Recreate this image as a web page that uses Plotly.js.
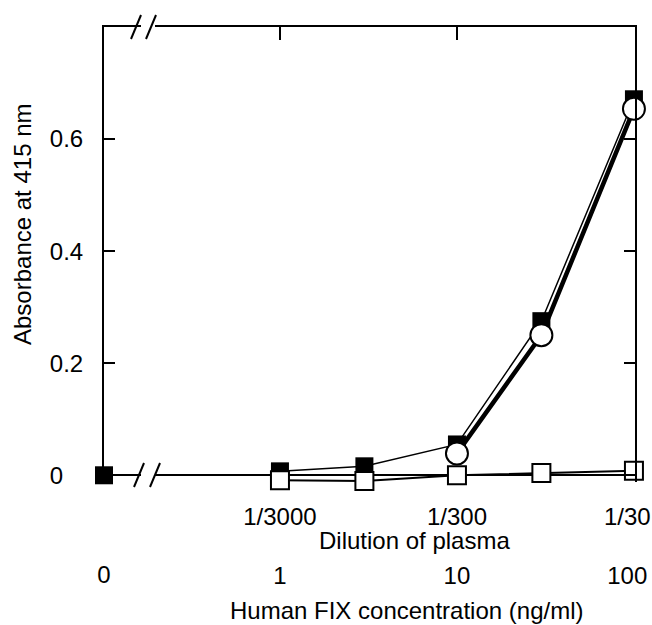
<!DOCTYPE html>
<html>
<head>
<meta charset="utf-8">
<script src="https://cdn.plot.ly/plotly-3.0.1.min.js"></script>
<style>html,body{margin:0;padding:0;background:#fff;}#chart{width:652px;height:625px;}</style>
</head>
<body>
<div id="chart"></div>
<script>
// ---- data ----
const filledConc = [0, 1, 3, 10, 30, 100];
const filledAbs = [0, 0.007, 0.016, 0.055, 0.275, 0.671];
const circleConc = [10, 30, 100];
const circleAbs = [0.039, 0.25, 0.654];
const openConc = [1, 3, 10, 30, 100];
const openAbs = [-0.009, -0.010, 0.0, 0.004, 0.008];
const yTickVals = [0, 0.2, 0.4, 0.6];
const yTickText = ['0\u2008\u2007', '0.2', '0.4', '0.6'];
const dilutionVals = [1, 10, 100];
const dilutionText = ['1/3000', '1/300', '1/30\u2007'];
const concVals = [1, 10, 100];
const concText = ['1', '10', '100\u2007'];
const zeroVals = [0];
const zeroText = ['0'];
const topTickVals = [1, 10];

const F = 'Liberation Sans, Arial, sans-serif';
const fs = 24;

const zeroIdx = filledConc.map((c, i) => c === 0 ? i : -1).filter(i => i >= 0);
const posIdx = filledConc.map((c, i) => c > 0 ? i : -1).filter(i => i >= 0);

const traces = [
  { // filled square at zero concentration (left panel)
    x: zeroIdx.map(i => filledConc[i]), y: zeroIdx.map(i => filledAbs[i]),
    xaxis: 'x', yaxis: 'y', mode: 'markers', cliponaxis: false,
    marker: {symbol: 'square', size: 18, color: '#000'}, showlegend: false, hoverinfo: 'skip'
  },
  { // filled squares
    x: posIdx.map(i => filledConc[i]), y: posIdx.map(i => filledAbs[i]),
    xaxis: 'x2', yaxis: 'y2', mode: 'lines+markers', cliponaxis: false,
    line: {color: '#000', width: 1.5},
    marker: {symbol: 'square', size: 18, color: '#000'}, showlegend: false
  },
  { // open circles
    x: circleConc, y: circleAbs, xaxis: 'x2', yaxis: 'y2', mode: 'lines+markers', cliponaxis: false,
    line: {color: '#000', width: 4.5},
    marker: {symbol: 'circle', size: 22, color: '#fff', line: {color: '#000', width: 2}}, showlegend: false
  },
  { // open squares
    x: openConc, y: openAbs, xaxis: 'x2', yaxis: 'y2', mode: 'lines+markers', cliponaxis: false,
    line: {color: '#000', width: 2},
    marker: {symbol: 'square', size: 18, color: '#fff', line: {color: '#000', width: 2}}, showlegend: false
  },
  {x: [], y: [], xaxis: 'x3', yaxis: 'y2', showlegend: false},
  {x: [], y: [], xaxis: 'x4', yaxis: 'y2', showlegend: false},
  {x: [], y: [], xaxis: 'x5', yaxis: 'y', showlegend: false}
];

const pl = 104, pr = 635, pt = 27, pb = 482;
const W = pr - pl, H = pb - pt;
const px = v => (v - pl) / W;
const py = v => (pb - v) / H;

const yRange = [-0.012, 0.8];
const logRange = [-0.706, 2.006];
const common = {showgrid: false, zeroline: false, fixedrange: true};
const axLine = {showline: true, linecolor: '#000', linewidth: 2};

const slash = (xc, yc) => ({type: 'line', xref: 'paper', yref: 'paper',
  x0: px(xc - 5), y0: py(yc + 12), x1: px(xc + 5), y1: py(yc - 12),
  line: {color: '#000', width: 2}, layer: 'above'});

const yCommon = Object.assign({}, common, axLine, {
  domain: [0, 1], range: yRange,
  zeroline: true, zerolinecolor: '#000', zerolinewidth: 2,
  ticks: 'inside', ticklen: 11, tickwidth: 2, tickcolor: '#000',
  tickmode: 'array', tickvals: yTickVals, mirror: false
});

const layout = {
  width: 652, height: 625,
  margin: {l: pl, r: 652 - pr, t: pt, b: 625 - pb},
  paper_bgcolor: '#fff', plot_bgcolor: '#fff',
  font: {family: F, size: fs, color: '#000'},
  showlegend: false,
  xaxis: Object.assign({}, common, {
    domain: [0, px(141)], range: [0, 1], type: 'linear', anchor: 'y',
    showline: false, ticks: '', tickmode: 'array', tickvals: zeroVals, ticktext: zeroText,
    ticklabelstandoff: 76, ticklabeloverflow: 'allow', tickfont: {family: F, size: fs}
  }),
  xaxis5: Object.assign({}, common, axLine, {
    overlaying: 'x', range: [0, 1], type: 'linear', anchor: 'y', side: 'top',
    ticks: '', showticklabels: false
  }),
  xaxis2: Object.assign({}, common, {
    domain: [px(155), 1], range: logRange, type: 'log', anchor: 'y2',
    showline: false, ticks: '', tickmode: 'array', tickvals: dilutionVals, ticktext: dilutionText,
    ticklabelstandoff: 18, ticklabeloverflow: 'allow', tickfont: {family: F, size: fs}
  }),
  xaxis3: Object.assign({}, common, {
    overlaying: 'x2', range: logRange, type: 'log', anchor: 'y2', side: 'bottom',
    showline: false, ticks: '', tickmode: 'array', tickvals: concVals, ticktext: concText,
    ticklabelstandoff: 77, ticklabeloverflow: 'allow', tickfont: {family: F, size: fs}
  }),
  xaxis4: Object.assign({}, common, axLine, {
    overlaying: 'x2', range: logRange, type: 'log', anchor: 'y2', side: 'top',
    ticks: 'inside', ticklen: 13, tickwidth: 2, tickcolor: '#000',
    tickmode: 'array', tickvals: topTickVals, showticklabels: false
  }),
  yaxis: Object.assign({}, yCommon, {
    anchor: 'x', ticktext: yTickText, ticklabelstandoff: 14, tickfont: {family: F, size: fs}
  }),
  yaxis2: Object.assign({}, yCommon, {
    matches: 'y', anchor: 'x2', side: 'right', showticklabels: false
  }),
  annotations: [
    {text: 'Absorbance at 415 nm', xref: 'paper', yref: 'paper', x: px(22), y: py(224),
     textangle: -90, showarrow: false, xanchor: 'center', yanchor: 'middle', font: {family: F, size: fs}},
    {text: 'Dilution of plasma', xref: 'paper', yref: 'paper', x: px(414), y: py(540),
     showarrow: false, xanchor: 'center', yanchor: 'middle', font: {family: F, size: fs}},
    {text: 'Human FIX concentration (ng/ml)', xref: 'paper', yref: 'paper', x: px(406), y: py(610),
     showarrow: false, xanchor: 'center', yanchor: 'middle', font: {family: F, size: fs}}
  ],
  shapes: [slash(139, 475), slash(155, 475), slash(136, 27), slash(151, 27)]
};

Plotly.newPlot('chart', traces, layout, {staticPlot: true, displayModeBar: false});
</script>
</body>
</html>
